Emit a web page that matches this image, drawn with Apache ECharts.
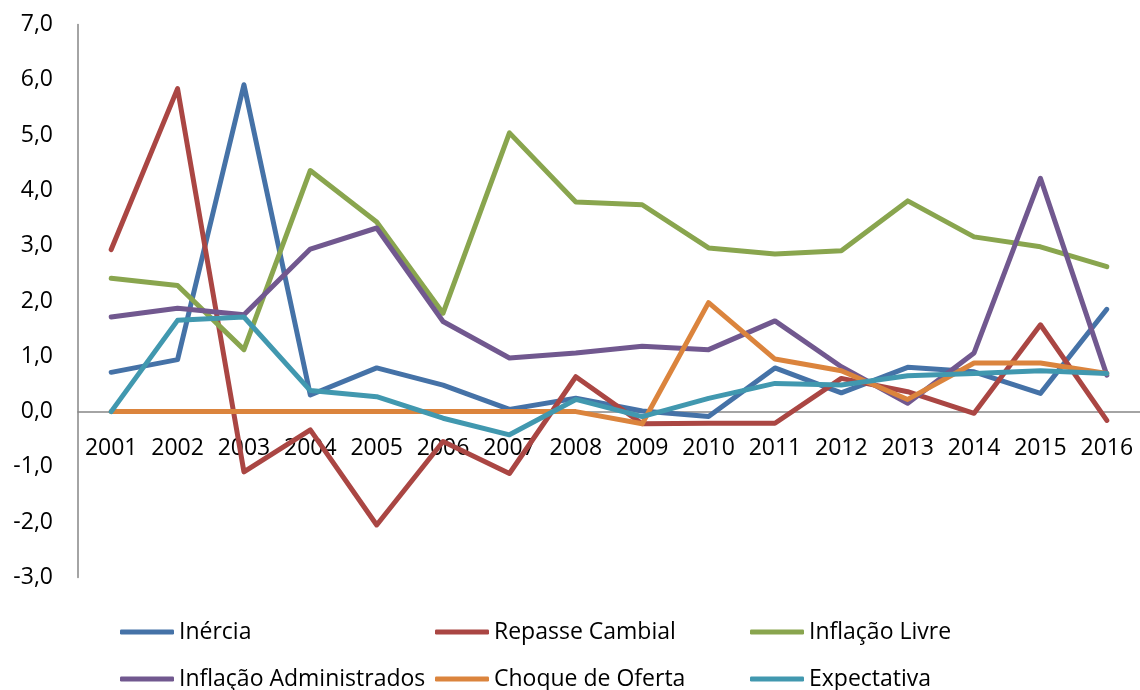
<!DOCTYPE html>
<html>
<head>
<meta charset="utf-8">
<script src="https://cdn.jsdelivr.net/npm/echarts@6/dist/echarts.min.js"></script>
<style>
  html, body { margin: 0; padding: 0; background: #fff; }
  #chart { width: 1140px; height: 690px; }
</style>
</head>
<body>
<div id="chart"></div>
<script>
// Decomposição da inflação por fator, 2001–2016 (p.p.)
const years = ['2001','2002','2003','2004','2005','2006','2007','2008','2009','2010','2011','2012','2013','2014','2015','2016'];

const inercia        = [0.71, 0.94, 5.91, 0.30, 0.79, 0.48, 0.04, 0.24, 0.01, -0.09, 0.79, 0.34, 0.80, 0.72, 0.33, 1.85];
const repasseCambial = [2.93, 5.84, -1.09, -0.33, -2.05, -0.54, -1.12, 0.63, -0.22, -0.21, -0.21, 0.60, 0.36, -0.03, 1.57, -0.16];
const inflacaoLivre  = [2.41, 2.28, 1.12, 4.36, 3.43, 1.78, 5.04, 3.79, 3.74, 2.96, 2.85, 2.91, 3.81, 3.16, 2.98, 2.62];
const inflacaoAdm    = [1.71, 1.87, 1.75, 2.94, 3.32, 1.63, 0.97, 1.06, 1.18, 1.12, 1.64, 0.81, 0.15, 1.06, 4.22, 0.66];
const choqueOferta   = [0, 0, 0, 0, 0, 0, 0, 0, -0.22, 1.97, 0.95, 0.74, 0.22, 0.88, 0.88, 0.69];
const expectativa    = [0, 1.65, 1.71, 0.38, 0.27, -0.12, -0.42, 0.22, -0.09, 0.24, 0.51, 0.48, 0.65, 0.69, 0.74, 0.69];

const seriesNames = ['Inércia', 'Repasse Cambial', 'Inflação Livre', 'Inflação Administrados', 'Choque de Oferta', 'Expectativa'];
const seriesData  = [inercia, repasseCambial, inflacaoLivre, inflacaoAdm, choqueOferta, expectativa];
const colors      = ['#4572A7', '#AA4643', '#89A54E', '#71588F', '#DB843D', '#4198AF'];

const font = '"Open Sans", "Liberation Sans", sans-serif';
const axisGray = '#868686';

// Plot area and value range
const gridTop = 24.5, gridBottom = 112.5, chartHeight = 690;
const yMin = -3, yMax = 7;
const plotHeight = chartHeight - gridTop - gridBottom;
// move the category axis up so it crosses the value axis at zero
const zeroOffset = -plotHeight * (0 - yMin) / (yMax - yMin);

// legend: three columns, two rows
const legendCols = [120, 435, 750];
const legendRows = [620, 667];
const legends = seriesNames.map((name, i) => ({
  left: legendCols[i % 3],
  top: legendRows[Math.floor(i / 3)],
  data: [name],
  icon: 'roundRect',
  itemWidth: 54,
  itemHeight: 5,
  padding: 0,
  selectedMode: false,
  textStyle: { fontFamily: font, fontSize: 23, color: '#000', lineHeight: 24 }
}));

const chart = echarts.init(document.getElementById('chart'), null, { renderer: 'canvas' });
chart.setOption({
  backgroundColor: '#fff',
  animation: false,
  color: colors,
  grid: { left: 78, right: -5, top: gridTop, bottom: gridBottom, containLabel: false },
  legend: legends,
  xAxis: {
    type: 'category',
    data: years,
    boundaryGap: true,
    position: 'bottom',
    offset: zeroOffset,
    axisLine: { onZero: false, lineStyle: { color: axisGray, width: 1.5 } },
    axisTick: { show: false },
    axisLabel: { fontFamily: font, fontSize: 23, color: '#000', margin: 25, interval: 0 },
    splitLine: { show: false }
  },
  yAxis: {
    type: 'value',
    min: yMin,
    max: yMax,
    interval: 1,
    axisLine: { show: true, lineStyle: { color: axisGray, width: 1.5 } },
    axisTick: { show: false },
    splitLine: { show: false },
    axisLabel: {
      fontFamily: font, fontSize: 23, color: '#000', margin: 25,
      formatter: v => v.toFixed(1).replace('.', ',')
    }
  },
  series: seriesNames.map((name, i) => ({
    name: name,
    type: 'line',
    data: seriesData[i],
    symbol: 'none',
    lineStyle: { width: 5, color: colors[i], cap: 'round', join: 'round' },
    itemStyle: { color: colors[i] },
    emphasis: { disabled: true }
  }))
});
</script>
</body>
</html>
